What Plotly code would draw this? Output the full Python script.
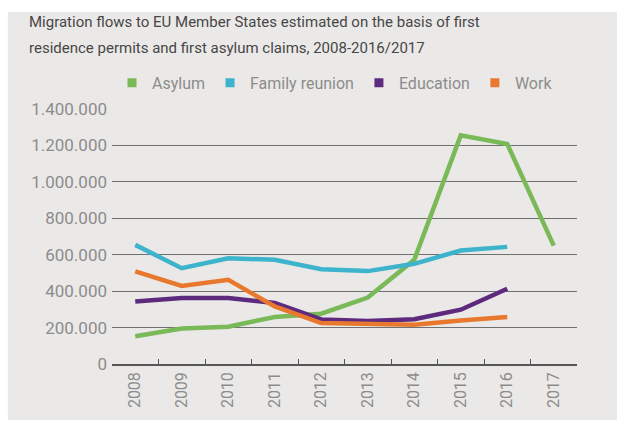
import plotly.graph_objects as go

# Migration flows by reason, 2008-2017
years = ["2008", "2009", "2010", "2011", "2012", "2013", "2014", "2015", "2016", "2017"]
asylum = [152000, 195000, 205000, 258000, 276000, 365000, 572000, 1255000, 1208000, 650000]
family_reunion = [654000, 526000, 581000, 572000, 520000, 510000, 550000, 623000, 643000]
education = [343000, 362000, 362000, 335000, 245000, 236000, 246000, 298000, 413000]
work = [508000, 429000, 462000, 316000, 225000, 223000, 216000, 239000, 258000]

series_names = ["Asylum", "Family reunion", "Education", "Work"]
series_values = [asylum, family_reunion, education, work]
series_colors = ["#7ab957", "#3db4cc", "#5e2a7e", "#e9782f"]

y_ticks = [0, 200000, 400000, 600000, 800000, 1000000, 1200000, 1400000]

title_lines = [
    "Migration flows to EU Member States estimated on the basis of first",
    "residence permits and first asylum claims, 2008-2016/2017",
]

FONT = "Roboto, 'Open Sans', sans-serif"
LABEL_GREY = "#8c8c8c"

fig = go.Figure()

# Data lines (no legend entries; squares are shown in the legend instead)
for name, vals, col in zip(series_names, series_values, series_colors):
    fig.add_trace(go.Scatter(
        x=years[:len(vals)], y=vals, name=name, mode="lines",
        line=dict(color=col, width=4.5), showlegend=False,
        hoverinfo="x+y+name",
    ))

# Legend entries with square swatches
for name, col in zip(series_names, series_colors):
    fig.add_trace(go.Scatter(
        x=[None], y=[None], name=name, mode="markers",
        marker=dict(symbol="square", size=9, color=col),
        showlegend=True,
    ))

# Title as two separate lines
for i, line in enumerate(title_lines):
    fig.add_annotation(
        text=line, xref="paper", yref="paper",
        x=-0.183, y=1.341 - i * 0.102, xanchor="left", yanchor="middle",
        showarrow=False, font=dict(family=FONT, size=15, color="#474747"),
    )

fig.update_layout(
    width=624, height=425,
    margin=dict(l=112, r=47, t=109, b=61, pad=0),
    paper_bgcolor="white",
    plot_bgcolor="rgba(0,0,0,0)",
    separators=",.",
    font=dict(family=FONT, color=LABEL_GREY),
    shapes=[dict(
        type="rect", xref="paper", yref="paper", layer="below",
        x0=-0.224, x1=1.086, y0=-0.220, y1=1.380,
        fillcolor="#ebe9e7", line=dict(width=0),
    )],
    legend=dict(
        orientation="h", x=0.0, y=1.103, xanchor="left", yanchor="middle",
        font=dict(family=FONT, size=16, color=LABEL_GREY),
        bgcolor="rgba(0,0,0,0)", itemwidth=30, tracegroupgap=0,
    ),
    xaxis=dict(
        type="category", categoryorder="array", categoryarray=years,
        range=[-0.5, len(years) - 0.5],
        tickson="boundaries", ticks="inside", ticklen=5, tickcolor="#555555",
        tickwidth=1, showline=True, linecolor="#555555", linewidth=1.5,
        showgrid=False, tickangle=-90,
        tickfont=dict(family=FONT, size=16, color=LABEL_GREY),
        fixedrange=True,
    ),
    yaxis=dict(
        range=[0, 1400000], tickvals=y_ticks, tickformat=",d",
        showgrid=True, gridcolor="#707070", gridwidth=1,
        zeroline=False, showline=False, ticks="",
        ticklabelstandoff=4,
        tickfont=dict(family=FONT, size=17, color=LABEL_GREY),
        fixedrange=True,
    ),
)

fig.write_html("out.html")
